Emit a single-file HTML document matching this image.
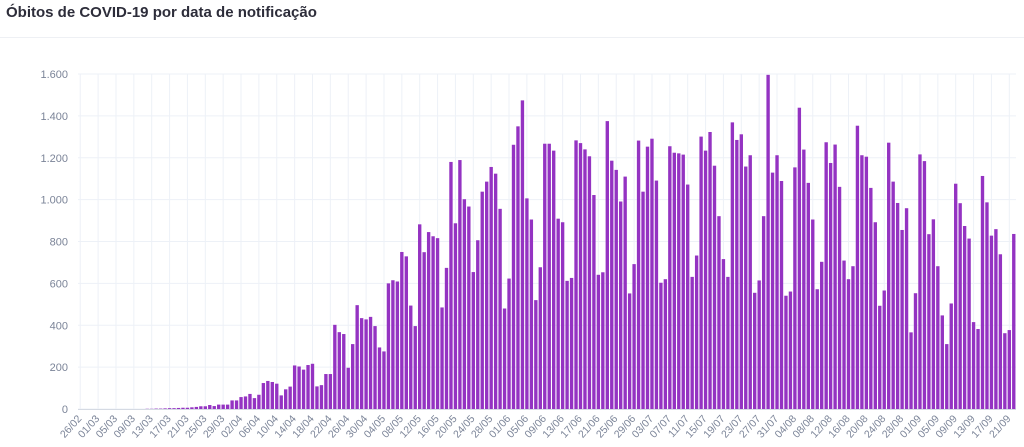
<!DOCTYPE html>
<html><head><meta charset="utf-8"><style>
body{margin:0;background:#fff;width:1024px;height:447px;overflow:hidden;font-family:"Liberation Sans",sans-serif}
#title{position:absolute;left:6px;top:4px;font-size:15px;font-weight:bold;color:#2d2d3a}
#sep{position:absolute;left:0;top:37px;width:1024px;height:1px;background:#eef0f4}
</style></head><body>
<div id="title">Óbitos de COVID-19 por data de notificação</div>
<div id="sep"></div>
<svg id="chart" width="1024" height="447" style="position:absolute;left:0;top:0"></svg>
<script>
const values=[0,0,0,0,0,0,0,0,0,0,0,0,0,0,0,1,1,2,2,3,4,4,5,
6,6,8,10,13,13,19,14,21,21,21,41,41,57,60,72,52,68,124,134,129,121,65,94,107,208,203,188,210,216,108,114,167,167,402,367,358,197,310,496,434,
428,440,396,294,275,600,615,609,750,729,494,396,882,749,845,825,816,485,674,1180,887,1189,1002,967,654,806,1038,1086,1156,1124,956,480,623,1262,1350,1474,
1006,905,520,677,1267,1267,1234,909,892,612,626,1283,1270,1240,1207,1022,641,653,1375,1186,1142,991,1110,552,692,1282,1038,1253,1291,1091,603,620,1255,1224,1221,1215,1072,
631,733,1301,1234,1323,1162,921,716,631,1369,1285,1312,1158,1212,555,614,921,1596,1129,1212,1089,541,561,1154,1439,1239,1080,905,572,703,1274,1175,1263,1061,709,620,682,1353,
1212,1205,1056,892,493,566,1272,1086,984,855,959,366,553,1216,1184,835,906,682,447,310,504,1076,983,874,814,415,382,1113,987,828,859,739,362,377,836];
const yTicks=[0,200,400,600,800,1000,1200,1400,1600];
const yTickLabels=["0","200","400","600","800","1.000","1.200","1.400","1.600"];
const startDate=[2020,1,26];
const svg=document.getElementById('chart');
const NS='http://www.w3.org/2000/svg';
const X0=78,X1=1016,Y0=409,Y1=74,YMAX=1600;
const band=(X1-X0)/values.length;
const xs=i=>X0+i*band;
const ys=v=>Y0-(v/YMAX)*(Y0-Y1);
function mk(t,a){const e=document.createElementNS(NS,t);for(const k in a)e.setAttribute(k,a[k]);svg.appendChild(e);return e;}
yTicks.forEach((t,i)=>{
  const g=mk('line',{x1:X0,x2:X1,y1:ys(t),y2:ys(t),stroke:'#edf1f7','stroke-width':1});
  
  
  const l=mk('text',{x:68,y:ys(t)+4,'text-anchor':'end','font-size':'11','fill':'#7b8498','font-family':'Liberation Sans, sans-serif'});
  l.textContent=yTickLabels[i];
  
  
});
const d0=new Date(startDate[0],startDate[1],startDate[2]);
for(let i=0;i<values.length;i+=4){
  const cx=xs(i)+band/2;
  const g=mk('line',{x1:cx,x2:cx,y1:Y1,y2:Y0,stroke:'#edf1f7','stroke-width':1});
  
  
  const d=new Date(d0.getTime()+i*86400000);
  const s=String(d.getDate()).padStart(2,'0')+'/'+String(d.getMonth()+1).padStart(2,'0');
  const l=mk('text',{x:cx+2,y:Y0+10,'text-anchor':'end','font-size':'10.5','fill':'#7b8498','font-family':'Liberation Sans, sans-serif',transform:`rotate(-48 ${cx+2} ${Y0+10})`});
  l.textContent=s;
  
  
}
values.forEach((v,i)=>{
  const b=mk('rect',{x:xs(i)+0.55,y:ys(v),width:band-1.1,height:Y0-ys(v),fill:'#9433c2'});
  
  
});
const ax=mk('line',{x1:X0,x2:X1,y1:Y0+0.5,y2:Y0+0.5,stroke:'#d5dae3','stroke-width':1});


</script>
</body></html>
